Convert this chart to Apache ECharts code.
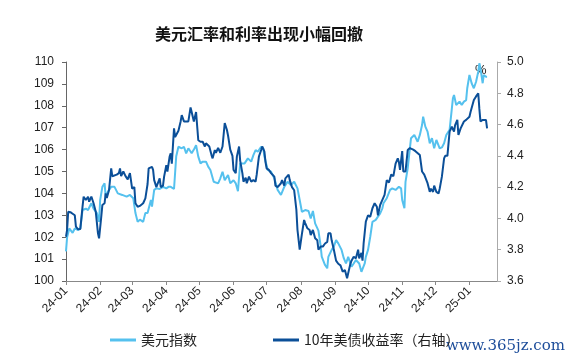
<!DOCTYPE html>
<html><head><meta charset="utf-8">
<script src="https://cdn.jsdelivr.net/npm/echarts@6/dist/echarts.min.js"></script>
<style>html,body{margin:0;padding:0;background:#fff}#c{width:566px;height:355px}</style>
</head><body><div id="c"></div>
<script>
const titleText = '美元汇率和利率出现小幅回撤';
const seriesNames = ['美元指数', '10年美债收益率（右轴）'];
const leftTicks = [100, 110, 1];
const rightTicks = [3.6, 5.0, 0.2];

const dxyDates = ['2024-01-01','2024-01-02','2024-01-04','2024-01-07','2024-01-09','2024-01-12','2024-01-14','2024-01-16','2024-01-19','2024-01-21','2024-01-24','2024-01-26','2024-01-29','2024-01-31','2024-02-01','2024-02-03','2024-02-05','2024-02-06','2024-02-08','2024-02-11','2024-02-14','2024-02-17','2024-02-21','2024-02-25','2024-02-28','2024-03-02','2024-03-04','2024-03-06','2024-03-08','2024-03-11','2024-03-13','2024-03-15','2024-03-18','2024-03-19','2024-03-21','2024-03-23','2024-03-26','2024-03-29','2024-04-01','2024-04-03','2024-04-05','2024-04-08','2024-04-10','2024-04-12','2024-04-15','2024-04-17','2024-04-19','2024-04-21','2024-04-24','2024-04-26','2024-04-28','2024-04-30','2024-05-02','2024-05-04','2024-05-07','2024-05-09','2024-05-11','2024-05-14','2024-05-15','2024-05-18','2024-05-20','2024-05-22','2024-05-24','2024-05-27','2024-05-29','2024-06-01','2024-06-03','2024-06-05','2024-06-07','2024-06-11','2024-06-14','2024-06-17','2024-06-19','2024-06-21','2024-06-23','2024-06-26','2024-06-28','2024-06-29','2024-07-02','2024-07-05','2024-07-08','2024-07-11','2024-07-14','2024-07-17','2024-07-20','2024-07-23','2024-07-26','2024-07-29','2024-07-31','2024-08-02','2024-08-05','2024-08-08','2024-08-10','2024-08-12','2024-08-14','2024-08-17','2024-08-19','2024-08-20','2024-08-23','2024-08-25','2024-08-26','2024-08-29','2024-08-31','2024-09-02','2024-09-04','2024-09-07','2024-09-09','2024-09-11','2024-09-13','2024-09-16','2024-09-18','2024-09-20','2024-09-23','2024-09-25','2024-09-26','2024-09-28','2024-09-29','2024-10-01','2024-10-03','2024-10-05','2024-10-08','2024-10-10','2024-10-12','2024-10-14','2024-10-15','2024-10-18','2024-10-21','2024-10-23','2024-10-26','2024-10-29','2024-10-31','2024-11-01','2024-11-03','2024-11-04','2024-11-06','2024-11-09','2024-11-12','2024-11-15','2024-11-17','2024-11-19','2024-11-20','2024-11-22','2024-11-24','2024-11-26','2024-11-28','2024-11-30','2024-12-02','2024-12-05','2024-12-07','2024-12-09','2024-12-11','2024-12-14','2024-12-15','2024-12-17','2024-12-18','2024-12-20','2024-12-23','2024-12-25','2024-12-27','2024-12-29','2024-12-30','2025-01-01','2025-01-03','2025-01-05','2025-01-07','2025-01-09','2025-01-10','2025-01-11','2025-01-13','2025-01-14','2025-01-16','2025-01-17'];
const dxyValues = [101.35,102.0,102.4,102.2,102.4,102.33,102.4,103.24,103.3,103.24,103.55,103.3,103.1,102.7,103.7,104.3,104.46,103.85,104.08,104.3,104.3,104.0,103.93,103.85,103.93,103.78,103.1,102.7,102.8,102.7,103.1,103.1,103.7,103.4,104.16,104.23,104.2,104.3,104.23,104.3,104.3,104.2,105.7,106.13,106.06,106.13,105.83,106.06,105.83,106.0,106.2,105.68,105.37,105.45,105.45,105.22,105.07,104.53,104.46,104.46,104.69,104.99,104.6,104.84,104.46,104.6,104.46,104.1,105.37,105.37,105.6,105.45,105.75,105.98,105.9,106.13,106.05,105.68,105.07,104.99,104.69,104.16,103.93,104.3,104.53,104.38,104.53,104.23,103.7,103.16,103.24,103.2,102.86,103.2,102.63,102.3,101.6,101.11,100.73,100.58,101.1,101.42,101.57,101.87,101.72,101.42,101.04,100.8,101.1,100.65,100.8,100.96,100.8,100.42,100.5,100.8,101.1,101.42,102.02,102.7,102.79,102.94,103.09,103.32,103.55,103.78,104.16,104.23,104.16,104.3,104.23,103.7,103.32,104.53,105.15,106.52,106.67,106.36,106.67,107.12,107.5,107.05,106.82,106.29,106.52,106.06,106.44,106.06,106.1,106.29,106.67,106.9,106.82,108.34,108.49,108.04,108.19,108.04,108.19,108.26,108.8,109.41,109.03,108.8,109.1,109.56,109.94,109.71,109.03,109.41,109.33,109.33,108.04];

const ustDates = ['2024-01-01','2024-01-02','2024-01-03','2024-01-05','2024-01-07','2024-01-09','2024-01-10','2024-01-12','2024-01-14','2024-01-16','2024-01-17','2024-01-19','2024-01-21','2024-01-22','2024-01-24','2024-01-26','2024-01-28','2024-01-30','2024-01-31','2024-02-02','2024-02-03','2024-02-05','2024-02-06','2024-02-07','2024-02-09','2024-02-11','2024-02-12','2024-02-13','2024-02-16','2024-02-18','2024-02-19','2024-02-20','2024-02-22','2024-02-24','2024-02-26','2024-02-27','2024-02-28','2024-03-01','2024-03-03','2024-03-04','2024-03-06','2024-03-08','2024-03-11','2024-03-13','2024-03-15','2024-03-16','2024-03-19','2024-03-20','2024-03-21','2024-03-23','2024-03-24','2024-03-26','2024-03-27','2024-03-29','2024-03-30','2024-04-01','2024-04-02','2024-04-04','2024-04-05','2024-04-06','2024-04-08','2024-04-09','2024-04-12','2024-04-14','2024-04-15','2024-04-17','2024-04-18','2024-04-21','2024-04-23','2024-04-24','2024-04-26','2024-04-28','2024-04-30','2024-05-02','2024-05-04','2024-05-06','2024-05-07','2024-05-10','2024-05-12','2024-05-13','2024-05-15','2024-05-16','2024-05-18','2024-05-20','2024-05-22','2024-05-24','2024-05-26','2024-05-27','2024-05-29','2024-05-31','2024-06-01','2024-06-03','2024-06-04','2024-06-06','2024-06-07','2024-06-09','2024-06-10','2024-06-12','2024-06-13','2024-06-15','2024-06-17','2024-06-19','2024-06-21','2024-06-22','2024-06-24','2024-06-26','2024-06-27','2024-06-29','2024-06-30','2024-07-01','2024-07-03','2024-07-05','2024-07-08','2024-07-09','2024-07-11','2024-07-12','2024-07-14','2024-07-15','2024-07-17','2024-07-18','2024-07-21','2024-07-22','2024-07-24','2024-07-26','2024-07-28','2024-07-29','2024-07-31','2024-08-01','2024-08-02','2024-08-04','2024-08-05','2024-08-07','2024-08-09','2024-08-10','2024-08-12','2024-08-14','2024-08-16','2024-08-17','2024-08-19','2024-08-21','2024-08-23','2024-08-25','2024-08-26','2024-08-28','2024-08-29','2024-08-31','2024-09-02','2024-09-04','2024-09-06','2024-09-08','2024-09-10','2024-09-12','2024-09-13','2024-09-15','2024-09-16','2024-09-18','2024-09-20','2024-09-22','2024-09-23','2024-09-25','2024-09-26','2024-09-27','2024-09-29','2024-10-01','2024-10-03','2024-10-05','2024-10-07','2024-10-09','2024-10-10','2024-10-12','2024-10-14','2024-10-16','2024-10-18','2024-10-20','2024-10-22','2024-10-24','2024-10-25','2024-10-26','2024-10-28','2024-10-29','2024-10-30','2024-11-01','2024-11-02','2024-11-04','2024-11-06','2024-11-08','2024-11-11','2024-11-13','2024-11-14','2024-11-17','2024-11-18','2024-11-19','2024-11-21','2024-11-22','2024-11-24','2024-11-26','2024-11-27','2024-11-29','2024-11-30','2024-12-02','2024-12-04','2024-12-05','2024-12-07','2024-12-09','2024-12-10','2024-12-12','2024-12-14','2024-12-15','2024-12-16','2024-12-18','2024-12-19','2024-12-21','2024-12-22','2024-12-24','2024-12-25','2024-12-27','2024-12-29','2025-01-01','2025-01-02','2025-01-03','2025-01-05','2025-01-07','2025-01-08','2025-01-09','2025-01-10','2025-01-11','2025-01-13','2025-01-14','2025-01-16','2025-01-17'];
const ustValues = [3.883,3.926,4.043,4.04,4.03,4.02,3.947,3.93,3.933,4.075,4.139,4.118,4.139,4.107,4.14,4.097,4.043,3.905,3.873,4.011,4.086,4.097,4.16,4.13,4.18,4.32,4.27,4.28,4.28,4.29,4.32,4.27,4.30,4.27,4.25,4.25,4.29,4.19,4.20,4.097,4.075,4.08,4.097,4.128,4.22,4.32,4.33,4.31,4.245,4.20,4.22,4.256,4.20,4.21,4.267,4.34,4.30,4.395,4.416,4.35,4.576,4.52,4.56,4.62,4.66,4.62,4.63,4.62,4.71,4.68,4.62,4.68,4.50,4.49,4.49,4.46,4.48,4.46,4.405,4.384,4.437,4.42,4.45,4.42,4.46,4.61,4.565,4.53,4.44,4.40,4.31,4.29,4.395,4.46,4.37,4.29,4.235,4.26,4.225,4.267,4.235,4.245,4.235,4.28,4.395,4.437,4.46,4.427,4.36,4.32,4.31,4.29,4.267,4.21,4.20,4.19,4.225,4.245,4.21,4.256,4.28,4.245,4.20,4.18,4.054,3.926,3.80,3.80,3.90,3.99,3.97,3.937,3.926,3.894,3.926,3.873,3.86,3.80,3.82,3.82,3.84,3.85,3.905,3.905,3.86,3.80,3.73,3.71,3.70,3.66,3.67,3.617,3.65,3.71,3.73,3.755,3.745,3.80,3.745,3.78,3.73,3.84,3.98,4.02,4.01,4.065,4.097,4.075,4.02,4.086,4.118,4.15,4.245,4.23,4.28,4.27,4.31,4.35,4.384,4.36,4.31,4.43,4.30,4.30,4.437,4.45,4.44,4.43,4.42,4.405,4.395,4.30,4.28,4.27,4.225,4.17,4.19,4.17,4.21,4.17,4.16,4.19,4.267,4.384,4.40,4.40,4.555,4.555,4.586,4.555,4.597,4.63,4.533,4.576,4.565,4.62,4.63,4.65,4.68,4.69,4.757,4.78,4.77,4.80,4.70,4.62,4.63,4.62,4.63,4.576];

const pair = (ds, vs) => ds.map((d, i) => [d, vs[i]]);
const fmtMonth = v => { const d = new Date(v); return String(d.getFullYear()).slice(2) + '-' + String(d.getMonth() + 1).padStart(2, '0'); };
const LIGHT = '#55c1ee', DARK = '#0b4f98';
const chart = echarts.init(document.getElementById('c'), null, {renderer: 'canvas'});
chart.setOption({
  animation: false,
  backgroundColor: '#fff',
  title: {text: titleText, left: 150, top: 21, textStyle: {fontFamily: 'Noto Sans CJK SC', fontSize: 16, fontWeight: 'bold', color: '#111'}},
  grid: {left: 66, right: 69, top: 62, bottom: 74, containLabel: false},
  legend: {left: 105, top: 328, itemGap: 76, itemWidth: 26, itemHeight: 3, icon: 'rect',
    textStyle: {fontFamily: 'Noto Sans CJK SC', fontSize: 14, color: '#222'},
    data: seriesNames},
  xAxis: {type: 'time', min: '2024-01-01', max: '2025-01-26', splitNumber: 13,
    minInterval: 28 * 86400000, maxInterval: 31 * 86400000,
    axisLine: {lineStyle: {color: '#888', width: 1}},
    axisTick: {show: true, length: 4, lineStyle: {color: '#888'}},
    splitLine: {show: false},
    axisLabel: {rotate: 45, formatter: fmtMonth, fontFamily: 'Liberation Sans', fontSize: 12, color: '#222', margin: 8, showMaxLabel: false}},
  yAxis: [
    {type: 'value', min: leftTicks[0], max: leftTicks[1], interval: leftTicks[2],
     axisLine: {show: true, lineStyle: {color: '#666'}}, axisTick: {show: true, length: 4, lineStyle: {color: '#666'}},
     splitLine: {show: false},
     axisLabel: {fontFamily: 'Liberation Sans', fontSize: 12, color: '#222', margin: 12}},
    {type: 'value', min: rightTicks[0], max: rightTicks[1], interval: rightTicks[2], position: 'right',
     axisLine: {show: true, lineStyle: {color: '#aaa'}}, axisTick: {show: true, length: 4, lineStyle: {color: '#aaa'}},
     splitLine: {show: false},
     axisLabel: {fontFamily: 'Liberation Sans', fontSize: 12, color: '#222', margin: 10, formatter: v => v.toFixed(1)}}
  ],
  graphic: [
    {type: 'text', left: 475, top: 64, style: {text: '%', font: '13px Liberation Sans', fill: '#222'}},
    {type: 'text', right: 1, top: 339, style: {text: 'www.365jz.com', font: '15px DejaVu Serif', fill: '#1d4d9a'}}
  ],
  series: [
    {name: seriesNames[0], type: 'line', yAxisIndex: 0, showSymbol: false, data: pair(dxyDates, dxyValues),
     lineStyle: {color: LIGHT, width: 2}, itemStyle: {color: LIGHT}},
    {name: seriesNames[1], type: 'line', yAxisIndex: 1, showSymbol: false, data: pair(ustDates, ustValues),
     lineStyle: {color: DARK, width: 2}, itemStyle: {color: DARK}}
  ]
});
</script></body></html>
